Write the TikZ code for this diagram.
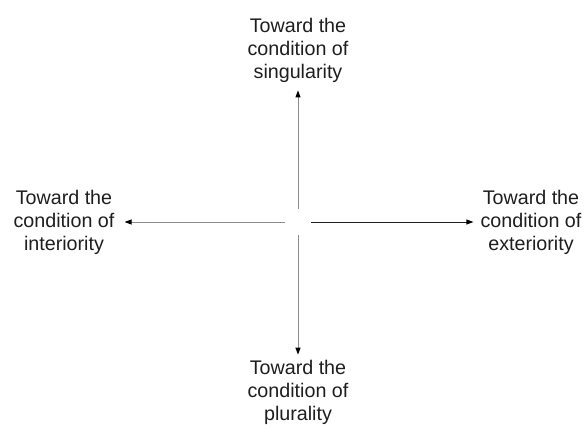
\documentclass[tikz,border=0pt]{standalone}
\usepackage{fontspec}
\setmainfont{Liberation Sans}
\usepackage{xcolor}
\definecolor{linegray}{RGB}{140,140,140}
\definecolor{textdark}{RGB}{30,30,30}
\usetikzlibrary{arrows.meta, positioning}

\begin{document}
\begin{tikzpicture}[x=1pt, y=-1pt,
    label/.style={align=center, inner sep=0pt, text=textdark,
      font=\fontsize{19.7}{23}\selectfont},
    hub/.style={circle, inner sep=0pt, minimum size=26pt},
    arrow/.style={line width=1pt, draw=linegray,
      -{Triangle[length=7pt, width=5pt, black]}}
]
\useasboundingbox (0,0) rectangle (587,424);

%% Centre
\node[hub] (hub) at (298,222) {};

%% Directions
\node[label] (sing) at (298,50) {Toward the\\condition of\\singularity};
\node[label] (inter) at (64,222) {Toward the\\condition of\\interiority};
\node[label] (exter) at (531,222) {Toward the\\condition of\\exteriority};
\node[label] (plur) at (298,392) {Toward the\\condition of\\plurality};

\draw[arrow, shorten >=8pt] (hub) -- (sing);
\draw[arrow, shorten >=10pt] (hub) -- (inter);
\draw[arrow, draw=textdark, line width=0.8pt, shorten >=7pt] (hub) -- (exter);
\draw[arrow, shorten >=5pt] (hub) -- (plur);
\end{tikzpicture}
\end{document}
